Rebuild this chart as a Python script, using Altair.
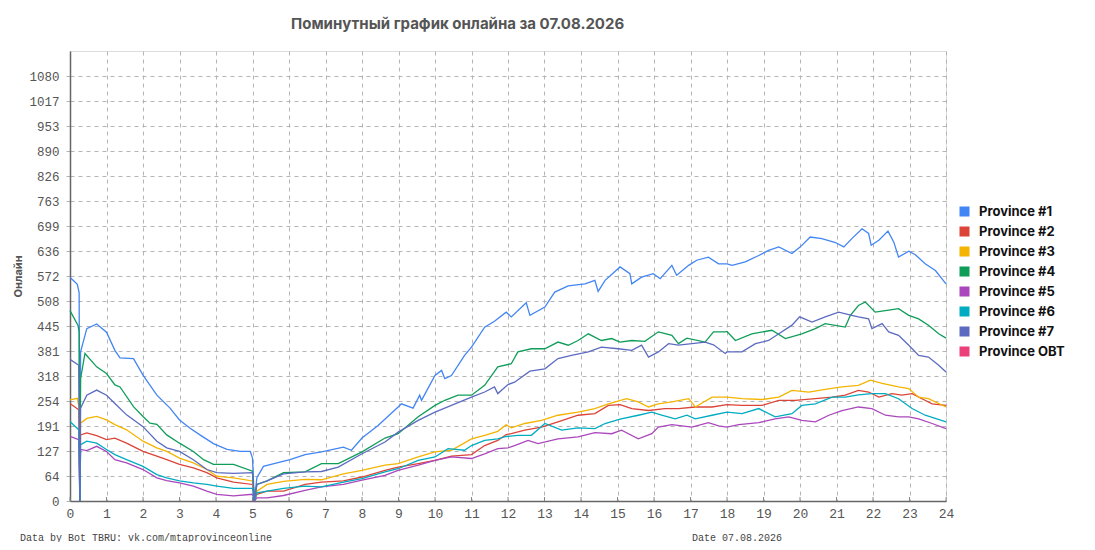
import altair as alt
import pandas as pd

TITLE = "Поминутный график онлайна за 07.08.2026"
Y_TITLE = "Онлайн"
NOTE_LEFT = "Data by Bot TBRU: vk.com/mtaprovinceonline"
NOTE_RIGHT = "Date 07.08.2026"

SERIES = ["Province #1", "Province #2", "Province #3", "Province #4",
          "Province #5", "Province #6", "Province #7", "Province OBT"]
COLORS = ["#4285F4", "#DB4437", "#F4B400", "#0F9D58",
          "#AB47BC", "#00ACC1", "#5C6BC0", "#EC407A"]

Y_STEP = 63.55
Y_TICKS = [round(i * Y_STEP, 2) for i in range(18)]
X_TICKS = list(range(25))

# (hour, online) readings
P1 = [(0, 568), (0.1, 560), (0.2, 551), (0.25, 530), (0.27, 0), (0.29, 379), (0.46, 438), (0.73, 450),
      (1.0, 429), (1.23, 383), (1.37, 364), (1.74, 362), (2.0, 320), (2.38, 269), (2.74, 236), (3.0, 206),
      (3.29, 185), (3.56, 168), (3.93, 146), (4.3, 131), (4.66, 126), (4.94, 126), (5.0, 109), (5.05, 0),
      (5.12, 59), (5.3, 88), (5.67, 97), (6.03, 105), (6.44, 118), (6.89, 125), (7.49, 137), (7.71, 129),
      (8.0, 160), (8.44, 192), (8.99, 239), (9.08, 247), (9.4, 236), (9.58, 269), (9.63, 256), (10.0, 319),
      (10.18, 332), (10.27, 311), (10.45, 319), (10.81, 370), (11.0, 391), (11.36, 442), (11.63, 457),
      (11.95, 480), (12.09, 468), (12.5, 504), (12.6, 472), (13.01, 493), (13.28, 531), (13.65, 547),
      (14.11, 552), (14.38, 561), (14.47, 533), (14.66, 561), (15.07, 595), (15.34, 578), (15.39, 552),
      (15.66, 569), (15.98, 578), (16.17, 565), (16.49, 599), (16.62, 574), (16.95, 599), (17.17, 612),
      (17.49, 620), (17.77, 603), (18.0, 603), (18.14, 599), (18.5, 608), (18.87, 624), (19.14, 637),
      (19.42, 646), (19.78, 629), (20.01, 646), (20.28, 671), (20.6, 667), (20.97, 657), (21.2, 646),
      (21.42, 667), (21.7, 692), (21.88, 680), (21.95, 650), (22.16, 663), (22.41, 686), (22.57, 658),
      (22.7, 620), (22.98, 635), (23.16, 626), (23.43, 603), (23.71, 586), (24.0, 552)]

P2 = [(0, 248), (0.24, 232), (0.27, 0), (0.29, 168), (0.46, 173), (0.73, 166), (1.0, 156), (1.23, 160),
      (1.55, 147), (2.0, 126), (2.38, 114), (2.65, 105), (3.0, 93), (3.38, 84), (3.75, 72), (4.02, 59),
      (4.48, 48), (5.0, 42), (5.05, 0), (5.12, 17), (5.4, 25), (5.85, 25), (6.44, 42), (6.89, 48),
      (7.49, 51), (8.0, 61), (8.63, 78), (8.99, 86), (9.54, 95), (10.0, 103), (10.45, 114), (11.0, 118),
      (11.36, 141), (11.72, 154), (11.95, 169), (12.09, 171), (12.46, 180), (12.92, 188), (13.37, 201),
      (13.92, 218), (14.38, 222), (14.75, 243), (15.07, 245), (15.39, 235), (15.85, 230), (16.3, 235),
      (16.67, 235), (17.13, 239), (17.59, 239), (18.0, 245), (18.41, 243), (18.96, 243), (19.42, 256),
      (19.87, 256), (20.42, 260), (20.88, 264), (21.24, 269), (21.6, 281), (21.88, 277), (22.16, 264),
      (22.52, 273), (22.79, 269), (23.07, 273), (23.34, 260), (23.62, 247), (24.0, 243)]

P3 = [(0, 257), (0.2, 261), (0.25, 236), (0.27, 0), (0.29, 198), (0.46, 210), (0.73, 215), (1.0, 206),
      (1.23, 194), (1.55, 181), (2.0, 152), (2.38, 135), (2.65, 126), (3.0, 109), (3.38, 97), (3.75, 80),
      (4.02, 63), (4.48, 59), (5.0, 51), (5.05, 0), (5.12, 25), (5.4, 42), (5.85, 50), (6.44, 55),
      (6.89, 54), (7.49, 69), (8.0, 78), (8.63, 91), (8.99, 95), (9.54, 112), (10.0, 125), (10.45, 129),
      (11.0, 158), (11.36, 167), (11.72, 177), (11.95, 194), (12.09, 186), (12.46, 197), (12.92, 205),
      (13.37, 218), (13.92, 226), (14.38, 235), (14.75, 247), (15.25, 260), (15.57, 252), (15.85, 239),
      (16.12, 247), (16.49, 252), (16.95, 260), (17.13, 239), (17.59, 264), (18.0, 264), (18.41, 260),
      (18.96, 258), (19.42, 264), (19.78, 281), (20.24, 277), (20.69, 284), (21.15, 290), (21.6, 294),
      (21.93, 307), (22.25, 299), (22.7, 290), (22.98, 286), (23.25, 264), (23.52, 260), (24.0, 239)]

P4 = [(0, 484), (0.22, 446), (0.25, 430), (0.27, 0), (0.29, 311), (0.41, 375), (0.73, 341), (1.0, 324),
      (1.23, 295), (1.37, 290), (1.74, 240), (2.0, 215), (2.19, 198), (2.38, 195), (2.65, 168), (3.0, 147),
      (3.38, 126), (3.66, 105), (3.93, 93), (4.48, 93), (5.0, 76), (5.05, 0), (5.12, 42), (5.4, 51),
      (5.85, 72), (6.44, 74), (6.89, 95), (7.35, 95), (8.0, 125), (8.63, 160), (8.99, 171), (9.54, 214),
      (10.0, 243), (10.27, 256), (10.63, 269), (11.0, 269), (11.36, 294), (11.72, 341), (12.09, 349),
      (12.27, 379), (12.64, 387), (13.01, 387), (13.37, 404), (13.65, 396), (13.92, 408), (14.2, 425),
      (14.56, 408), (14.84, 413), (15.07, 404), (15.39, 408), (15.75, 406), (16.12, 430), (16.49, 421),
      (16.67, 400), (16.9, 414), (17.4, 404), (17.63, 430), (17.95, 430), (18.0, 431), (18.23, 408),
      (18.68, 425), (19.23, 434), (19.6, 413), (20.05, 425), (20.42, 438), (20.69, 451), (21.24, 442),
      (21.38, 472), (21.6, 497), (21.79, 506), (22.06, 480), (22.43, 485), (22.7, 489), (22.98, 472),
      (23.25, 463), (23.52, 447), (23.8, 425), (24.0, 414)]

P5 = [(0, 164), (0.24, 156), (0.27, 0), (0.29, 131), (0.46, 128), (0.73, 139), (1.0, 126), (1.23, 105),
      (1.55, 97), (2.0, 80), (2.38, 59), (2.65, 52), (3.0, 46), (3.38, 38), (3.75, 25), (4.02, 17),
      (4.48, 13), (5.0, 17), (5.05, 0), (5.12, 8), (5.4, 8), (5.85, 14), (6.44, 27), (6.89, 36),
      (7.49, 42), (8.0, 53), (8.63, 65), (8.99, 78), (9.54, 91), (10.0, 103), (10.45, 112), (11.0, 108),
      (11.36, 120), (11.72, 133), (12.0, 135), (12.18, 141), (12.55, 154), (12.82, 146), (13.37, 158),
      (13.92, 163), (14.38, 174), (14.84, 171), (15.11, 180), (15.57, 158), (15.94, 171), (16.12, 188),
      (16.49, 194), (17.04, 188), (17.49, 199), (17.77, 191), (18.0, 188), (18.32, 194), (18.87, 199),
      (19.32, 209), (19.69, 214), (20.05, 205), (20.42, 201), (20.79, 218), (21.15, 230), (21.6, 239),
      (21.97, 235), (22.34, 218), (22.7, 214), (22.98, 214), (23.25, 209), (23.62, 197), (24.0, 184)]

P6 = [(0, 202), (0.24, 181), (0.27, 0), (0.29, 143), (0.46, 152), (0.73, 147), (1.0, 131), (1.23, 118),
      (1.55, 105), (2.0, 88), (2.38, 67), (2.65, 59), (3.0, 51), (3.38, 46), (3.75, 42), (4.02, 38),
      (4.48, 32), (5.0, 32), (5.05, 0), (5.12, 21), (5.4, 25), (5.85, 32), (6.44, 38), (6.89, 36),
      (7.49, 48), (8.0, 57), (8.63, 74), (8.99, 82), (9.54, 103), (10.0, 112), (10.36, 133), (10.81, 129),
      (11.0, 141), (11.36, 154), (11.72, 158), (11.95, 164), (12.27, 167), (12.64, 167), (13.01, 197),
      (13.47, 180), (13.92, 186), (14.38, 184), (14.66, 197), (15.07, 208), (15.57, 218), (15.94, 226),
      (16.21, 218), (16.58, 209), (16.9, 218), (17.13, 209), (17.59, 218), (18.0, 226), (18.41, 222),
      (18.87, 235), (19.32, 214), (19.78, 222), (20.05, 243), (20.42, 247), (20.88, 264), (21.24, 264),
      (21.6, 270), (21.97, 273), (22.34, 273), (22.7, 260), (23.07, 235), (23.43, 218), (24.0, 201)]

P7 = [(0, 360), (0.24, 345), (0.27, 0), (0.29, 236), (0.46, 269), (0.73, 282), (1.0, 269), (1.23, 248),
      (1.55, 219), (2.0, 189), (2.38, 152), (2.65, 135), (3.0, 126), (3.38, 105), (3.75, 80), (4.02, 72),
      (4.48, 70), (5.0, 72), (5.05, 0), (5.12, 42), (5.4, 51), (5.85, 69), (6.44, 74), (6.89, 75),
      (7.35, 86), (8.0, 120), (8.63, 150), (8.99, 175), (9.54, 205), (10.0, 226), (10.45, 243), (11.0, 264),
      (11.36, 277), (11.63, 290), (11.72, 273), (12.0, 296), (12.18, 302), (12.6, 330), (13.01, 336),
      (13.37, 362), (13.74, 370), (14.2, 379), (14.56, 391), (15.02, 387), (15.39, 383), (15.66, 396),
      (15.85, 366), (16.12, 379), (16.4, 400), (16.67, 396), (17.04, 400), (17.4, 404), (17.63, 397),
      (17.95, 375), (18.0, 379), (18.41, 379), (18.78, 400), (19.14, 408), (19.42, 425), (19.78, 447),
      (19.99, 468), (20.33, 455), (20.69, 468), (21.06, 480), (21.42, 472), (21.6, 468), (21.88, 463),
      (21.97, 438), (22.25, 451), (22.43, 430), (22.7, 421), (22.98, 396), (23.25, 370), (23.52, 366),
      (23.8, 345), (24.0, 328)]

rows = []
for name, pts in zip(SERIES[:7], [P1, P2, P3, P4, P5, P6, P7]):
    for h, v in pts:
        rows.append({"series": name, "hour": h, "online": v})
df = pd.DataFrame(rows)

PLOT_W, PLOT_H = 876, 450
GRID = "#b4b4b4"
LABEL = "#555555"

color_scale = alt.Scale(domain=SERIES, range=COLORS)
x_scale = alt.Scale(domain=[0, 24], nice=False, zero=False)

x_axis = alt.Axis(values=X_TICKS, format="d", title=None,
                  grid=True, gridColor=GRID, gridDash=[4, 4], gridWidth=1,
                  domainColor="#666666", domainWidth=1.5,
                  ticks=False, labelOverlap=False, labelSeparation=0,
                  labelFont="Liberation Mono", labelFontSize=13,
                  labelColor=LABEL, labelPadding=6, labelFlush=False)

# line-legend swatch drawn as closely packed strokes so it reads as a filled square
SWATCH = "M-1,-0.8H1M-1,-0.4H1M-1,0H1M-1,0.4H1M-1,0.8H1"
legend = alt.Legend(
    title=None, orient="none", legendX=888, legendY=154,
    symbolType=SWATCH, symbolSize=100, symbolStrokeWidth=2.2, symbolOpacity=1,
    labelFont="Inter", labelFontSize=13, labelFontWeight="bold", labelColor="#111111",
    rowPadding=3, labelOffset=8,
)

lines = alt.Chart(df).mark_line(strokeWidth=1.3, interpolate="linear").encode(
    x=alt.X("hour:Q", scale=x_scale, axis=x_axis),
    y=alt.Y("online:Q",
            scale=alt.Scale(domain=[0, 18 * Y_STEP], nice=False),
            axis=alt.Axis(values=Y_TICKS, labelExpr="format(round(datum.value), 'd')",
                          title=Y_TITLE, titleFont="Inter", titleFontSize=11,
                          titleFontWeight="bold", titleColor=LABEL,
                          titleAngle=270, titleX=-52, titleY=PLOT_H / 2,
                          titleAlign="center", titleBaseline="middle",
                          grid=True, gridColor=GRID, gridDash=[4, 4], gridWidth=1,
                          domainColor="#666666", domainWidth=1.5,
                          ticks=True, tickSize=8, tickColor=GRID, tickDash=[4, 4],
                          labelOverlap=False,
                          labelFont="Liberation Mono", labelFontSize=12.5,
                          labelColor=LABEL, labelPadding=3)),
    color=alt.Color("series:N", scale=color_scale, sort=SERIES, legend=legend),
    order=alt.Order("hour:Q"),
)

inner_ticks = alt.Chart(pd.DataFrame({"tick": X_TICKS})).mark_rule(
    color="#888888", strokeWidth=1
).encode(x=alt.X("tick:Q", scale=x_scale, axis=x_axis),
         y=alt.value(PLOT_H - 4), y2=alt.value(PLOT_H))

note_left = alt.Chart(pd.DataFrame({"t": [NOTE_LEFT]})).mark_text(
    font="Liberation Mono", fontSize=10, color="#444444", align="left", baseline="middle"
).encode(text="t:N", x=alt.value(-50), y=alt.value(486.5))

note_right = alt.Chart(pd.DataFrame({"t": [NOTE_RIGHT]})).mark_text(
    font="Liberation Mono", fontSize=10, color="#444444", align="left", baseline="middle"
).encode(text="t:N", x=alt.value(622), y=alt.value(486.5))

chart = alt.layer(lines, inner_ticks, note_left, note_right).properties(
    width=PLOT_W, height=PLOT_H,
    title=alt.TitleParams(TITLE, font="Inter", fontSize=15, fontWeight="bold",
                          color="#555555", anchor="start", dx=279, offset=19),
    autosize=alt.AutoSizeParams(type="none"),
    padding={"left": 62, "top": 43, "right": 141, "bottom": 41},
).configure_view(stroke="#666666", strokeWidth=1.5).configure(background="white")

chart.save("out.html", embed_options={"renderer": "svg", "actions": False})
